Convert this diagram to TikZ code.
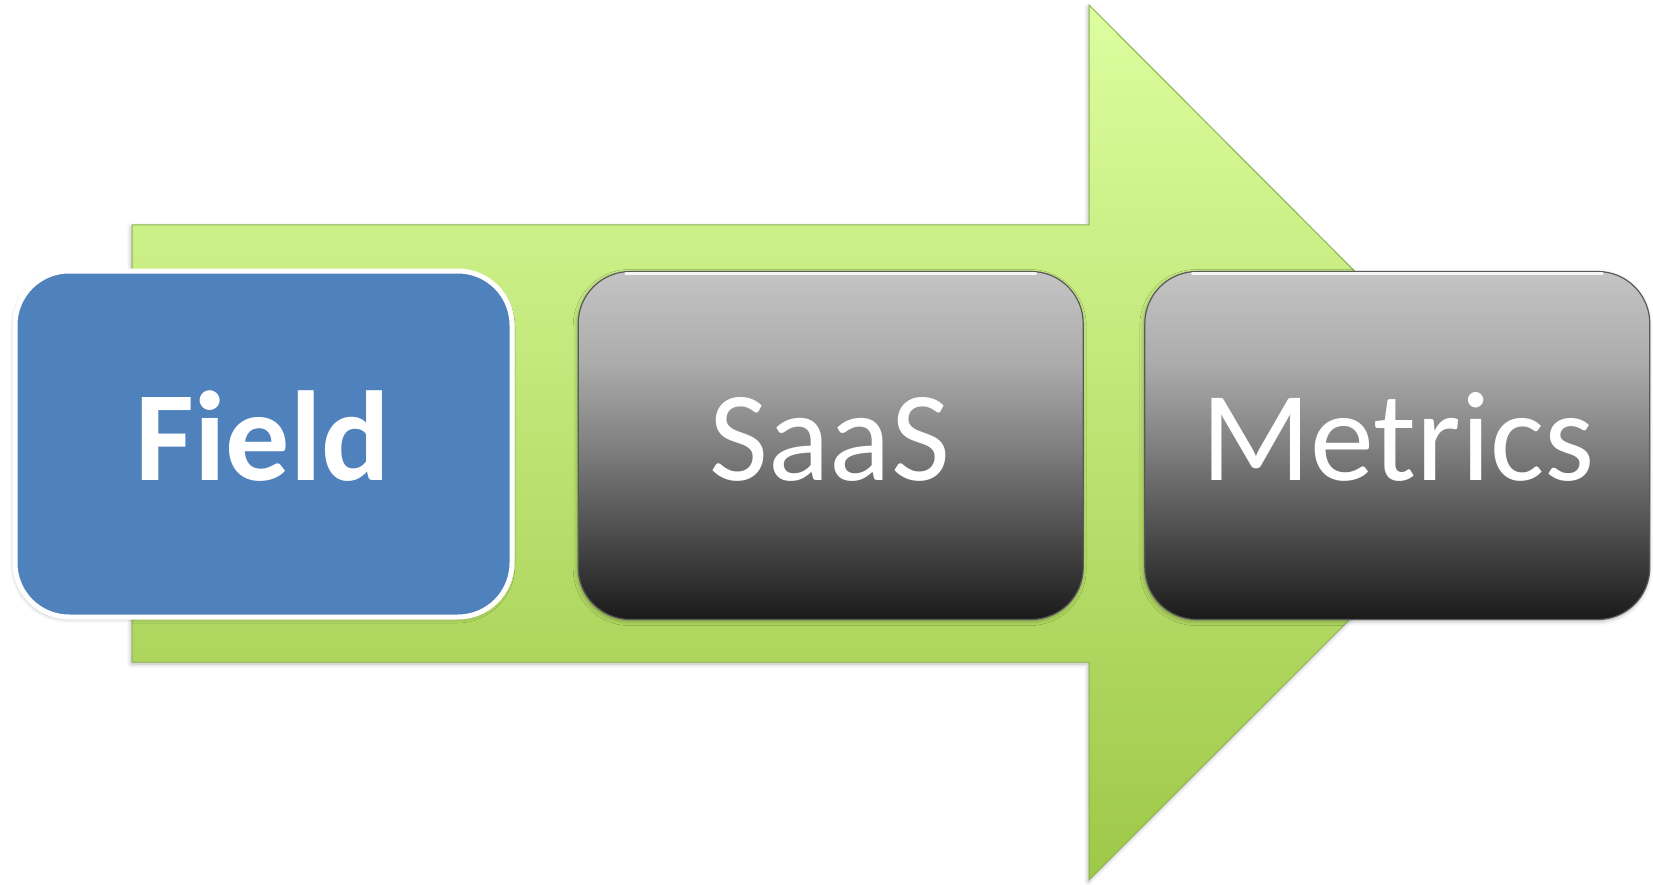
\documentclass[tikz,border=0pt]{standalone}
\usepackage{fontspec}
\setmainfont{Carlito}
\usetikzlibrary{shadows.blur}
\definecolor{arrtop}{RGB}{220,254,158}
\definecolor{arrbot}{RGB}{158,200,72}
\definecolor{arrline}{RGB}{140,180,80}
\definecolor{fieldblue}{RGB}{79,129,189}
\definecolor{gA}{RGB}{26,26,26}
\definecolor{gB}{RGB}{75,75,75}
\definecolor{gC}{RGB}{128,128,128}
\definecolor{gD}{RGB}{172,172,172}
\definecolor{gE}{RGB}{196,196,196}
\pgfdeclareverticalshading{arrowshade}{100bp}{color(0bp)=(arrbot); color(25bp)=(arrbot); color(75bp)=(arrtop); color(100bp)=(arrtop)}
\pgfdeclareverticalshading{glossgray}{100bp}{color(0bp)=(gA); color(25bp)=(gA); color(37bp)=(gB); color(50bp)=(gC); color(62bp)=(gD); color(75bp)=(gE); color(100bp)=(gE)}
\tikzset{
  softshadow/.style={blur shadow={shadow xshift=-1pt, shadow yshift=-2pt, shadow blur radius=4pt, shadow opacity=30}},
  bluebox/.style={rectangle, rounded corners=54, draw=white, line width=5, fill=fieldblue, minimum width=497, minimum height=346, softshadow},
  graybox/.style={rectangle, rounded corners=52, draw=black!65, line width=1.2, shading=glossgray, minimum width=505, minimum height=348, softshadow},
  boxtext/.style={text=white, font=\fontsize{128}{150}\selectfont, inner sep=0pt, anchor=base},
  gloss/.style={white, line width=2.5, opacity=0.85, line cap=round}
}
\begin{document}
\begin{tikzpicture}[x=1pt,y=-1pt]
\useasboundingbox (0,0) rectangle (1653,885);
% big arrow
\path[shading=arrowshade, draw=arrline, line width=1, softshadow]
  (132,225) -- (1089,225) -- (1089,5) -- (1526,443) -- (1089,880) -- (1089,662) -- (132,662) -- cycle;
% boxes
\node[bluebox] (field) at (263.5,444) {};
\node[graybox] (saas) at (830.7,445.5) {};
\node[graybox] (metrics) at (1397.3,445.5) {};
\draw[gloss] ([xshift=48pt,yshift=-2.5pt]saas.north west) -- ([xshift=-48pt,yshift=-2.5pt]saas.north east);
\draw[gloss] ([xshift=48pt,yshift=-2.5pt]metrics.north west) -- ([xshift=-48pt,yshift=-2.5pt]metrics.north east);
% texts
\node[boxtext, font=\fontsize{128}{150}\selectfont\bfseries] (fieldtxt) at (263,480) {Field};
\node[boxtext] (saastxt) at (830,480) {SaaS};
\node[boxtext] (metricstxt) at (1398,480) {Metrics};
\end{tikzpicture}
\end{document}
